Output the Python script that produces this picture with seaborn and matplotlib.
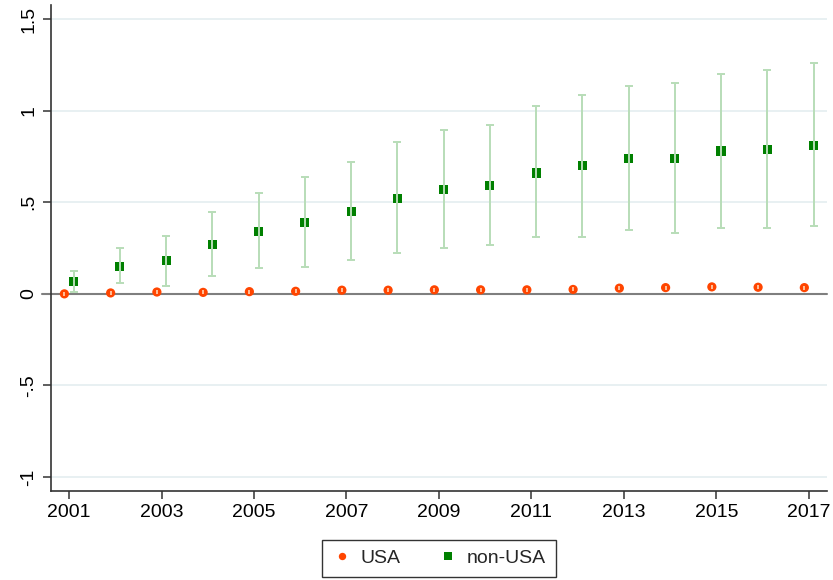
import matplotlib
matplotlib.use("Agg")
import matplotlib.pyplot as plt
import seaborn as sns
import pandas as pd
import numpy as np

years = list(range(2001, 2018))

# USA estimates (tiny intervals)
usa = [0.0, 0.005, 0.010, 0.008, 0.012, 0.014, 0.020, 0.020, 0.022, 0.022,
       0.022, 0.024, 0.031, 0.034, 0.038, 0.036, 0.034]
usa_lo = [-0.011, -0.006, -0.001, -0.003, 0.001, 0.003, 0.009, 0.009, 0.011, 0.011,
          0.011, 0.013, 0.020, 0.023, 0.027, 0.025, 0.023]
usa_hi = [0.011, 0.016, 0.021, 0.019, 0.023, 0.025, 0.031, 0.031, 0.033, 0.033,
          0.033, 0.035, 0.042, 0.045, 0.049, 0.047, 0.045]

# non-USA estimates with confidence intervals
nonusa = [0.066, 0.148, 0.180, 0.270, 0.340, 0.390, 0.450, 0.520, 0.570, 0.590,
          0.660, 0.700, 0.741, 0.741, 0.780, 0.790, 0.812]
nonusa_lo = [0.012, 0.058, 0.045, 0.095, 0.142, 0.148, 0.186, 0.224, 0.250, 0.268,
             0.310, 0.310, 0.350, 0.330, 0.357, 0.357, 0.373]
nonusa_hi = [0.122, 0.248, 0.317, 0.448, 0.552, 0.640, 0.720, 0.830, 0.896, 0.923,
             1.027, 1.087, 1.133, 1.153, 1.198, 1.224, 1.258]

sns.set_theme(style="white")
plt.rcParams['font.family'] = ['Liberation Sans', 'DejaVu Sans']

df = pd.DataFrame({
    "year": np.array(years * 2, dtype=float)
            + np.array([-0.1] * len(years) + [0.1] * len(years)),
    "est": usa + nonusa,
    "group": ["USA"] * len(years) + ["non-USA"] * len(years),
})

fig = plt.figure(figsize=(8.33, 5.8), dpi=100)
ax = fig.add_axes([0.0612, 0.1534, 0.9316, 0.838])

# gridlines + zero line
for yv in [-1, -0.5, 0.5, 1, 1.5]:
    ax.axhline(yv, color="#E6EFF1", lw=1.3, zorder=0)
ax.axhline(0, xmin=-0.012, color="#7f7f7f", lw=1.5, zorder=1, clip_on=False)

sns.scatterplot(data=df, x="year", y="est", hue="group", style="group",
                markers={"USA": "o", "non-USA": "s"},
                palette={"USA": "#FF4500", "non-USA": "#008000"},
                s=44, linewidth=0, ax=ax, zorder=3)

x_usa = np.array(years) - 0.1
x_non = np.array(years) + 0.1
ax.errorbar(x_usa, usa, yerr=[np.array(usa) - np.array(usa_lo), np.array(usa_hi) - np.array(usa)],
            fmt="none", ecolor="#FFC9A6", elinewidth=1.3, capsize=0, zorder=4)
ax.errorbar(x_non, nonusa, yerr=[np.array(nonusa) - np.array(nonusa_lo), np.array(nonusa_hi) - np.array(nonusa)],
            fmt="none", ecolor="#B8DDB8", elinewidth=1.4, capsize=3, capthick=1.4, zorder=4)

ax.set_xlim(2000.61, 2017.39)
ax.set_ylim(-1.0765, 1.577)
ax.set_xticks(list(range(2001, 2018, 2)))
ax.set_xticklabels([str(y) for y in range(2001, 2018, 2)], fontsize=14)
ax.set_yticks([-1, -0.5, 0, 0.5, 1, 1.5])
ax.set_yticklabels(["-1", "-.5", "0", ".5", "1", "1.5"], fontsize=14,
                   rotation=90, va="center")
ax.set_xlabel("")
ax.set_ylabel("")

for side in ["top", "right"]:
    ax.spines[side].set_visible(False)
for side in ["left", "bottom"]:
    ax.spines[side].set_color("#333333")
    ax.spines[side].set_linewidth(1.2)
ax.tick_params(axis="both", direction="out", length=6, width=1.1,
               color="#333333", left=True, bottom=True, labelcolor="black")
ax.tick_params(axis="x", pad=3)
ax.tick_params(axis="y", pad=4)

handles, labels = ax.get_legend_handles_labels()
leg = ax.legend(handles, labels, loc="upper center", bbox_to_anchor=(0.5, -0.1),
                borderaxespad=0, ncol=2, frameon=True, fancybox=False, fontsize=14,
                handletextpad=0.5, columnspacing=1.9, borderpad=0.5,
                handlelength=1.0, markerscale=0.8)
leg.get_frame().set_edgecolor("black")
leg.get_frame().set_linewidth(1.0)

fig.savefig("out.png", dpi=100)
